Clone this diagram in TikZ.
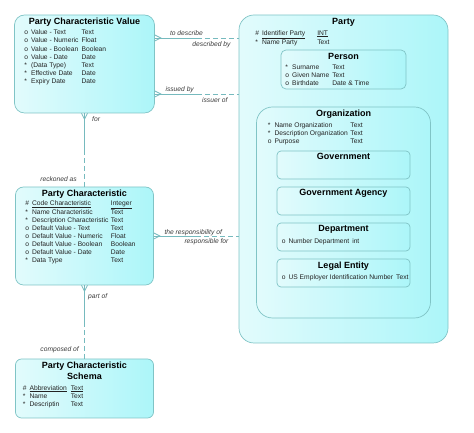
\documentclass[tikz,border=0pt]{standalone}
\usepackage{fontspec}
\setmainfont{Liberation Sans}
\usetikzlibrary{positioning,calc}
\definecolor{erline}{RGB}{128,196,198}
\definecolor{erpale}{RGB}{226,251,252}
\definecolor{erfill}{RGB}{172,246,249}
\definecolor{relline}{RGB}{118,186,190}
\definecolor{ertext}{RGB}{35,35,35}
\definecolor{rltext}{RGB}{60,60,60}
\tikzset{
entity/.style = {draw=erline, line width=0.7pt, left color=erpale, right color=erfill, rectangle, inner sep=0pt},
etitle/.style = {font=\fontsize{9}{11}\selectfont\bfseries, inner sep=0pt, align=center},
attrs/.style  = {font=\fontsize{6.7}{8.1}\selectfont, inner sep=0pt, text=ertext},
rel/.style    = {draw=relline, line width=0.8pt},
opt/.style    = {rel, dash pattern=on 5pt off 3pt},
rlabel/.style = {font=\fontsize{6.7}{8}\selectfont\itshape, inner sep=0pt, text=rltext}
}
\begin{document}
\begin{tikzpicture}[x=1pt, y=1pt, node distance=36pt]
  \useasboundingbox (0,0) rectangle (474,433);

  % entities
  \node [entity, rounded corners=10pt, minimum width=140pt, minimum height=98pt] (pcv) at (84.5,369) {};
  \node [entity, rounded corners=8pt, minimum width=138pt, minimum height=98pt, below of=pcv, node distance=172pt] (pc) {};
  \node [entity, rounded corners=6pt, minimum width=138pt, minimum height=59pt, below of=pc, node distance=152.5pt] (pcs) {};
  \node [entity, rounded corners=15pt, minimum width=209pt, minimum height=328pt] (party) at (343.5,254) {};
  \node [entity, rounded corners=5pt, minimum width=125pt, minimum height=39pt, above of=party, node distance=109.5pt] (person) {};
  \node [entity, rounded corners=16pt, minimum width=174pt, minimum height=211pt, below of=party, node distance=33.5pt] (org) {};
  \node [entity, rounded corners=4pt, minimum width=133pt, minimum height=28pt, above of=org, node distance=47.5pt] (gov) {};
  \node [entity, rounded corners=4pt, minimum width=133pt, minimum height=28pt, below of=gov] (agency) {};
  \node [entity, rounded corners=4pt, minimum width=133pt, minimum height=28pt, below of=agency] (dept) {};
  \node [entity, rounded corners=4pt, minimum width=133pt, minimum height=28pt, below of=dept] (legal) {};

  % titles
  \node [etitle, below=3.2pt of pcv.north]    (pcvt)    {Party Characteristic Value};
  \node [etitle, below=3.2pt of pc.north]     (pct)     {Party Characteristic};
  \node [etitle, below=2.8pt of pcs.north]    (pcst)    {Party Characteristic\\Schema};
  \node [etitle, below=3.2pt of party.north]  (partyt)  {Party};
  \node [etitle, below=3.2pt of person.north] (persont) {Person};
  \node [etitle, below=3.2pt of org.north]    (orgt)    {Organization};
  \node [etitle, below=2.8pt of gov.north]    (govt)    {Government};
  \node [etitle, below=2.8pt of agency.north] (agencyt) {Government Agency};
  \node [etitle, below=2.8pt of dept.north]   (deptt)   {Department};
  \node [etitle, below=2.8pt of legal.north]  (legalt)  {Legal Entity};

  % attributes
  \node [attrs, below right=14.3pt and 10pt of pcv.north west] (pcva) {%
    \begin{tabular}{@{}l@{\hspace{3pt}}l@{\hspace{3pt}}l@{}}
    o & Value - Text & Text\\
    o & Value - Numeric & Float\\
    o & Value - Boolean & Boolean\\
    o & Value - Date & Date\\
    {*} & (Data Type) & Text\\
    {*} & Effective Date & Date\\
    {*} & Expiry Date & Date
    \end{tabular}};
  \node [attrs, below right=12.8pt and 10pt of pc.north west] (pca) {%
    \begin{tabular}{@{}l@{\hspace{3pt}}l@{\hspace{2.5pt}}l@{}}
    \# & \underline{Code Characteristic} & \underline{Integer}\\
    {*} & Name Characteristic & Text\\
    {*} & Description Characteristic & Text\\
    o & Default Value - Text & Text\\
    o & Default Value - Numeric & Float\\
    o & Default Value - Boolean & Boolean\\
    o & Default Value - Date & Date\\
    {*} & Data Type & Text
    \end{tabular}};
  \node [attrs, below right=25.5pt and 7.5pt of pcs.north west] (pcsa) {%
    \begin{tabular}{@{}l@{\hspace{3pt}}l@{\hspace{4pt}}l@{}}
    \# & \underline{Abbreviation} & \underline{Text}\\
    {*} & Name & Text\\
    {*} & Descriptin & Text
    \end{tabular}};
  \node [attrs, below right=14.5pt and 16.5pt of party.north west] (partya) {%
    \begin{tabular}{@{}l@{\hspace{3pt}}l@{\hspace{12pt}}l@{}}
    \# & \underline{Identifier Party} & \underline{INT}\\
    {*} & Name Party & Text
    \end{tabular}};
  \node [attrs, below right=13.8pt and 4.5pt of person.north west] (persona) {%
    \begin{tabular}{@{}l@{\hspace{3pt}}l@{\hspace{3pt}}l@{}}
    {*} & Surname & Text\\
    o & Given Name & Text\\
    o & Birthdate & Date \& Time
    \end{tabular}};
  \node [attrs, below right=14.5pt and 11.5pt of org.north west] (orga) {%
    \begin{tabular}{@{}l@{\hspace{3pt}}l@{\hspace{2.5pt}}l@{}}
    {*} & Name Organization & Text\\
    {*} & Description Organization & Text\\
    o & Purpose & Text
    \end{tabular}};
  \node [attrs, below right=14.5pt and 5pt of dept.north west] (depta) {%
    \begin{tabular}{@{}l@{\hspace{3pt}}l@{\hspace{3pt}}l@{}}
    o & Number Department & int
    \end{tabular}};
  \node [attrs, below right=14.5pt and 5pt of legal.north west] (legala) {%
    \begin{tabular}{@{}l@{\hspace{3pt}}l@{\hspace{3pt}}l@{}}
    o & US Employer Identification Number & Text
    \end{tabular}};

  % to describe / described by
  \coordinate (dsc) at ([yshift=26pt]pcv.east);
  \coordinate (dscB) at (dsc -| party.west);
  \coordinate (dscM) at ($(dsc)!0.5!(dscB)$);
  \draw [rel] (dsc) -- (dscM);
  \draw [opt] (dscM) -- (dscB);
  \draw [rel] ([yshift=3pt]dsc) -- ([xshift=6pt]dsc) -- ([yshift=-3pt]dsc);
  \node [rlabel, anchor=base west] (ldsc) at ([xshift=15pt, yshift=2.2pt]dsc) {to describe};
  \node [rlabel, anchor=base east] (ldby) at ([xshift=-8pt, yshift=-8.5pt]dscB) {described by};

  % issued by / issuer of
  \coordinate (iss) at ([yshift=-30pt]pcv.east);
  \coordinate (issB) at (iss -| party.west);
  \coordinate (issM) at ($(iss)!0.5!(issB)$);
  \draw [rel] (iss) -- (issM);
  \draw [opt] (issM) -- (issB);
  \draw [rel] ([yshift=3pt]iss) -- ([xshift=6pt]iss) -- ([yshift=-3pt]iss);
  \node [rlabel, anchor=base west] (liss) at ([xshift=10.5pt, yshift=2pt]iss) {issued by};
  \node [rlabel, anchor=base east] (lisr) at ([xshift=-11pt, yshift=-8.5pt]issB) {issuer of};

  % for / reckoned as
  \coordinate (forM) at ($(pcv.south)!0.5!(pc.north)$);
  \draw [rel] (pcv.south) -- (forM);
  \draw [opt] (forM) -- (pc.north);
  \draw [rel] ([xshift=-3pt]pcv.south) -- ([yshift=-6pt]pcv.south) -- ([xshift=3pt]pcv.south);
  \node [rlabel, anchor=base west] (lfor) at ([xshift=7.5pt, yshift=-8.4pt]pcv.south) {for};
  \node [rlabel, anchor=base east] (lrck) at ([xshift=-7.5pt, yshift=5.6pt]pc.north) {reckoned as};

  % the responsibility of / responsible for
  \coordinate (rsp) at (pc.east);
  \coordinate (rspB) at (rsp -| party.west);
  \coordinate (rspM) at ($(rsp)!0.5!(rspB)$);
  \draw [rel] (rsp) -- (rspM);
  \draw [opt] (rspM) -- (rspB);
  \draw [rel] ([yshift=3pt]rsp) -- ([xshift=6pt]rsp) -- ([yshift=-3pt]rsp);
  \node [rlabel, anchor=base west] (lrsp) at ([xshift=10.5pt, yshift=1.8pt]rsp) {the responsibility of};
  \node [rlabel, anchor=base east] (lrsf) at ([xshift=-10pt, yshift=-7.6pt]rspB) {responsible for};

  % part of / composed of
  \coordinate (prtM) at ($(pc.south)!0.5!(pcs.north)$);
  \draw [rel] (pc.south) -- (prtM);
  \draw [opt] (prtM) -- (pcs.north);
  \draw [rel] ([xshift=-3pt]pc.south) -- ([yshift=-6pt]pc.south) -- ([xshift=3pt]pc.south);
  \node [rlabel, anchor=base west] (lprt) at ([xshift=3.5pt, yshift=-13.4pt]pc.south) {part of};
  \node [rlabel, anchor=base east] (lcmp) at ([xshift=-5.5pt, yshift=7.6pt]pcs.north) {composed of};
\end{tikzpicture}
\end{document}
